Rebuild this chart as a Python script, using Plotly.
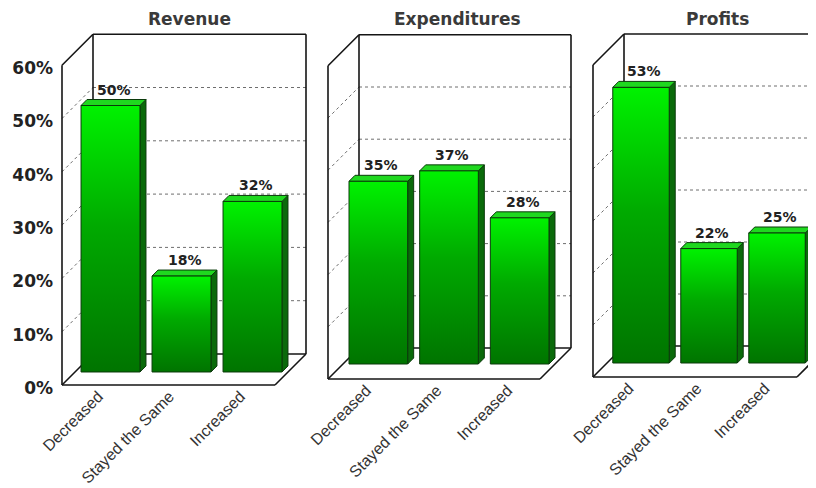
import plotly.graph_objects as go

# ---------------- data ----------------
categories = ["Decreased", "Stayed the Same", "Increased"]
panel_titles = ["Revenue", "Expenditures", "Profits"]
revenue = [50, 18, 32]
expenditures = [35, 37, 28]
profits = [53, 22, 25]
y_ticks = [0, 10, 20, 30, 40, 50, 60]
y_tick_labels = ["0%", "10%", "20%", "30%", "40%", "50%", "60%"]
grid_levels = [10, 20, 30, 40, 50]

series = [revenue, expenditures, profits]

# ---------------- geometry (pixels, page coordinates) ----------------
PAGE_OFF = 8                      # default body margin of the html page
FIG_W, FIG_H = 816 - PAGE_OFF, 488 - PAGE_OFF
panels = [
    dict(fl=62, fb=385, w=213, sy=5.33, f=13, d=31),
    dict(fl=328, fb=379, w=212, sy=5.22, f=15, d=31),
    dict(fl=593, fb=377, w=204, sy=5.20, f=14, d=31),
]
PAD = 4
BAR_W = 0.83
BAR_DEPTH = 6
Y_MAX = 60

FONT_B = "DejaVu Sans"
FONT_R = "Liberation Sans, Arial"
FRAME = dict(color="#151515", width=1.6)
GRID = dict(color="#6e6e6e", width=1, dash="dot")
BAR_LINE = dict(color="#0b3a0b", width=1)

fig = go.Figure()
shapes = []
annotations = []
layout_axes = {}

for i, (p, vals, title) in enumerate(zip(panels, series, panel_titles)):
    sfx = "" if i == 0 else str(i + 1)
    xa, ya = "x" + sfx, "y" + sfx
    fl = p["fl"] - PAGE_OFF
    fb = p["fb"] - PAGE_OFF
    sx = p["w"] / 3.0
    sy = p["sy"]
    f, d = p["f"], p["d"]
    bar_left = fl + f
    bar_zero = fb - f
    left_px = fl - PAD
    right_px = min(fl + p["w"] + d + PAD, FIG_W)
    top_px = fb - Y_MAX * sy - d - PAD
    bottom_px = fb + PAD

    x_range = [-0.5 + (left_px - bar_left) / sx, -0.5 + (right_px - bar_left) / sx]
    y_range = [(bar_zero - bottom_px) / sy, (bar_zero - top_px) / sy]

    layout_axes["xaxis" + sfx] = dict(
        domain=[left_px / FIG_W, right_px / FIG_W],
        range=x_range, anchor=ya, tickmode="array", tickvals=[0, 1, 2],
        ticktext=categories, tickangle=-45, ticklabelshift=-12,
        ticklabelstandoff=-6,
        showgrid=False, zeroline=False, showline=False, ticks="",
        tickfont=dict(family=FONT_R, size=16, color="#333333"),
        fixedrange=True, automargin=False,
    )
    layout_axes["yaxis" + sfx] = dict(
        domain=[1 - bottom_px / FIG_H, 1 - top_px / FIG_H],
        range=y_range, anchor=xa, tickmode="array", tickvals=y_ticks,
        ticktext=y_tick_labels, showticklabels=(i == 0),
        ticklabelshift=(f + 3), ticklabelstandoff=4,
        showgrid=False, zeroline=False, showline=False, ticks="",
        tickfont=dict(family=FONT_B, size=17, color="#222222", weight="bold"),
        fixedrange=True, automargin=False,
    )

    fx, fy = f / sx, f / sy
    bx, by = (d - f) / sx, (d - f) / sy

    def front(x, y):
        return (x - fx, y - fy)

    def back(x, y):
        return (x + bx, y + by)

    def seg(a, b, style):
        shapes.append(dict(type="line", xref=xa, yref=ya, x0=a[0], y0=a[1],
                           x1=b[0], y1=b[1], line=style, layer="below"))

    L, R = -0.5, 2.5
    # dotted grid on back wall and left wall
    for v in grid_levels:
        seg(back(L, v), back(R, v), GRID)
        seg(front(L, v), back(L, v), GRID)
    # box frame
    seg(front(L, 0), front(L, Y_MAX), FRAME)
    seg(front(L, Y_MAX), back(L, Y_MAX), FRAME)
    seg(back(L, Y_MAX), back(R, Y_MAX), FRAME)
    seg(back(R, Y_MAX), back(R, 0), FRAME)
    seg(back(L, 0), back(L, Y_MAX), FRAME)
    seg(back(L, 0), back(R, 0), FRAME)
    seg(front(L, 0), front(R, 0), FRAME)
    seg(front(R, 0), back(R, 0), FRAME)
    seg(front(L, 0), back(L, 0), FRAME)

    # bars
    ddx, ddy = BAR_DEPTH / sx, BAR_DEPTH / sy
    for k, v in enumerate(vals):
        x0, x1 = k - BAR_W / 2, k + BAR_W / 2
        # right side face
        fig.add_trace(go.Scatter(
            x=[x1, x1 + ddx, x1 + ddx, x1, x1], y=[0, ddy, v + ddy, v, 0],
            xaxis=xa, yaxis=ya, mode="lines", fill="toself",
            fillcolor="#0a6a0a", line=BAR_LINE, hoverinfo="skip", showlegend=False))
        # top face
        fig.add_trace(go.Scatter(
            x=[x0, x1, x1 + ddx, x0 + ddx, x0], y=[v, v, v + ddy, v + ddy, v],
            xaxis=xa, yaxis=ya, mode="lines", fill="toself",
            fillcolor="#1fd81f", line=BAR_LINE, hoverinfo="skip", showlegend=False))
        # front face with vertical gradient
        fig.add_trace(go.Scatter(
            x=[x0, x1, x1, x0, x0], y=[0, 0, v, v, 0],
            xaxis=xa, yaxis=ya, mode="lines", fill="toself",
            fillgradient=dict(type="vertical", start=0, stop=v,
                              colorscale=[[0, "#007400"], [0.55, "#00aa00"], [1, "#00f200"]]),
            line=BAR_LINE, name=categories[k],
            hovertemplate=title + " - " + categories[k] + ": %{customdata}%<extra></extra>",
            customdata=[v] * 5, showlegend=False))
        annotations.append(dict(
            x=k, y=v + ddy, xref=xa, yref=ya, text=f"{v}%", showarrow=False,
            yanchor="bottom", xshift=3, yshift=0,
            font=dict(family=FONT_B, size=14, color="#222222", weight="bold")))

    annotations.append(dict(
        x=1, y=1 - (19 - PAGE_OFF) / FIG_H, xref=xa, yref="paper", text=title,
        showarrow=False, xshift=8, yanchor="middle",
        font=dict(family=FONT_B, size=17, color="#3a3a3a", weight="bold")))

fig.update_layout(
    width=FIG_W, height=FIG_H,
    margin=dict(l=0, r=0, t=0, b=0),
    paper_bgcolor="white", plot_bgcolor="white",
    showlegend=False, shapes=shapes, annotations=annotations,
    **layout_axes,
)

fig.write_html("out.html")
